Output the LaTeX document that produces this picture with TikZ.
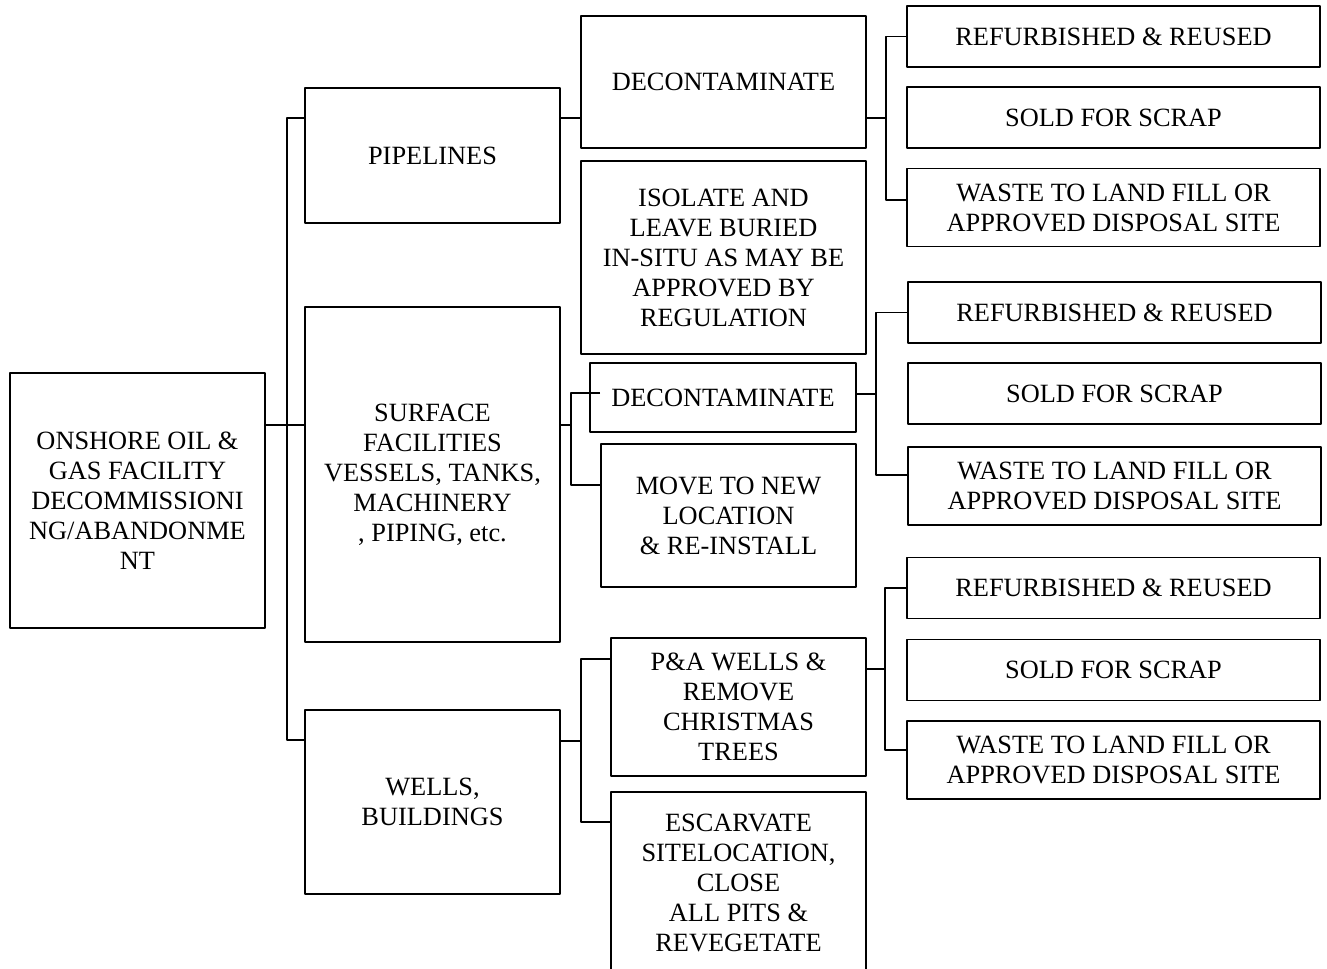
\documentclass[tikz,border=0pt]{standalone}
\usepackage{fontspec}
\setmainfont{Liberation Serif}
\begin{document}
\begin{tikzpicture}[x=0.02cm, y=-0.02cm, line width=1pt, line join=round,
	font=\fontsize{15}{17.07}\selectfont,
	box/.style 2 args={draw, align=center, inner sep=0pt, minimum width=#1*0.02cm, minimum height=#2*0.02cm}]
				\useasboundingbox (0,0) rectangle (1327,968);
				% main branches
				\node[box={255}{255}] (root) at (137.5,500.5) {ONSHORE OIL \&\\GAS FACILITY\\DECOMMISSIONI\\NG/ABANDONME\\NT};
				\node[box={255}{135}] (pipe) at (432.5,155.5) {PIPELINES};
				\node[box={255}{335}] (surf) at (432.5,474.5) {SURFACE\\FACILITIES\\VESSELS, TANKS,\\MACHINERY\\, PIPING, etc.};
				\node[box={255}{184}] (wells) at (432.5,802) {WELLS,\\BUILDINGS};
				% actions
				\node[box={285}{132}] (dec1) at (723.5,82) {DECONTAMINATE};
				\node[box={285}{193}] (iso) at (723.5,257.5) {ISOLATE AND\\LEAVE BURIED\\IN-SITU AS MAY BE\\APPROVED BY\\REGULATION};
				\node[box={266}{69}] (dec2) at (723,397.5) {DECONTAMINATE};
				\node[box={255}{143}] (move) at (728.5,515.5) {MOVE TO NEW\\LOCATION\\\& RE-INSTALL};
				\node[box={255}{138}] (pa) at (738.5,707) {P\&A WELLS \&\\REMOVE\\CHRISTMAS\\TREES};
				\node[box={255}{182}] (esc) at (738.5,883) {ESCARVATE\\SITELOCATION,\\CLOSE\\ALL PITS \&\\REVEGETATE};
				% outcomes
				\foreach \k/\xc/\ya/\yb/\yc in {1/1113.5/36.5/117.5/207.5, 2/1114.5/312.5/393.5/486, 3/1113.5/588/670/760}{
					\node[box={413}{61}] (r\k) at (\xc,\ya) {REFURBISHED \& REUSED};
					\node[box={413}{61}] (s\k) at (\xc,\yb) {SOLD FOR SCRAP};
					\node[box={413}{78}] (w\k) at (\xc,\yc) {WASTE TO LAND FILL OR\\APPROVED DISPOSAL SITE};
				}
				% trunk
				\coordinate (t1) at (287,118); \coordinate (t2) at (287,425); \coordinate (t3) at (287,740);
				\draw (root.east |- t2) -- (surf.west |- t2);
				\draw (pipe.west |- t1) -- (t1) -- (t3) -- (wells.west |- t3);
				% pipelines
				\draw (pipe.east |- t1) -- (dec1.west |- t1);
				\coordinate (b1) at (886,118); \coordinate (b1w) at (886,200);
				\draw (dec1.east |- b1) -- (b1);
				\draw (r1.west) -| (b1w) -- (w1.west |- b1w);
				% surface facilities
				\coordinate (c2) at (571,425); \coordinate (c2a) at (571,393); \coordinate (c2b) at (571,485);
				\draw (surf.east |- c2) -- (c2);
				\draw (move.west |- c2a) -- (c2a) -- (c2b) -- (move.west |- c2b);
				\coordinate (b2) at (876,394); \coordinate (b2w) at (876,475);
				\draw (dec2.east |- b2) -- (b2);
				\draw (r2.west) -| (b2w) -- (w2.west |- b2w);
				% wells
				\coordinate (c3) at (581,741); \coordinate (c3a) at (581,659); \coordinate (c3b) at (581,822);
				\draw (wells.east |- c3) -- (c3);
				\draw (pa.west |- c3a) -| (c3b) -- (esc.west |- c3b);
				\coordinate (b3) at (885,669); \coordinate (b3w) at (885,750);
				\draw (pa.east |- b3) -- (b3);
				\draw (r3.west) -| (b3w) -- (w3.west |- b3w);
			\end{tikzpicture}
\end{document}
